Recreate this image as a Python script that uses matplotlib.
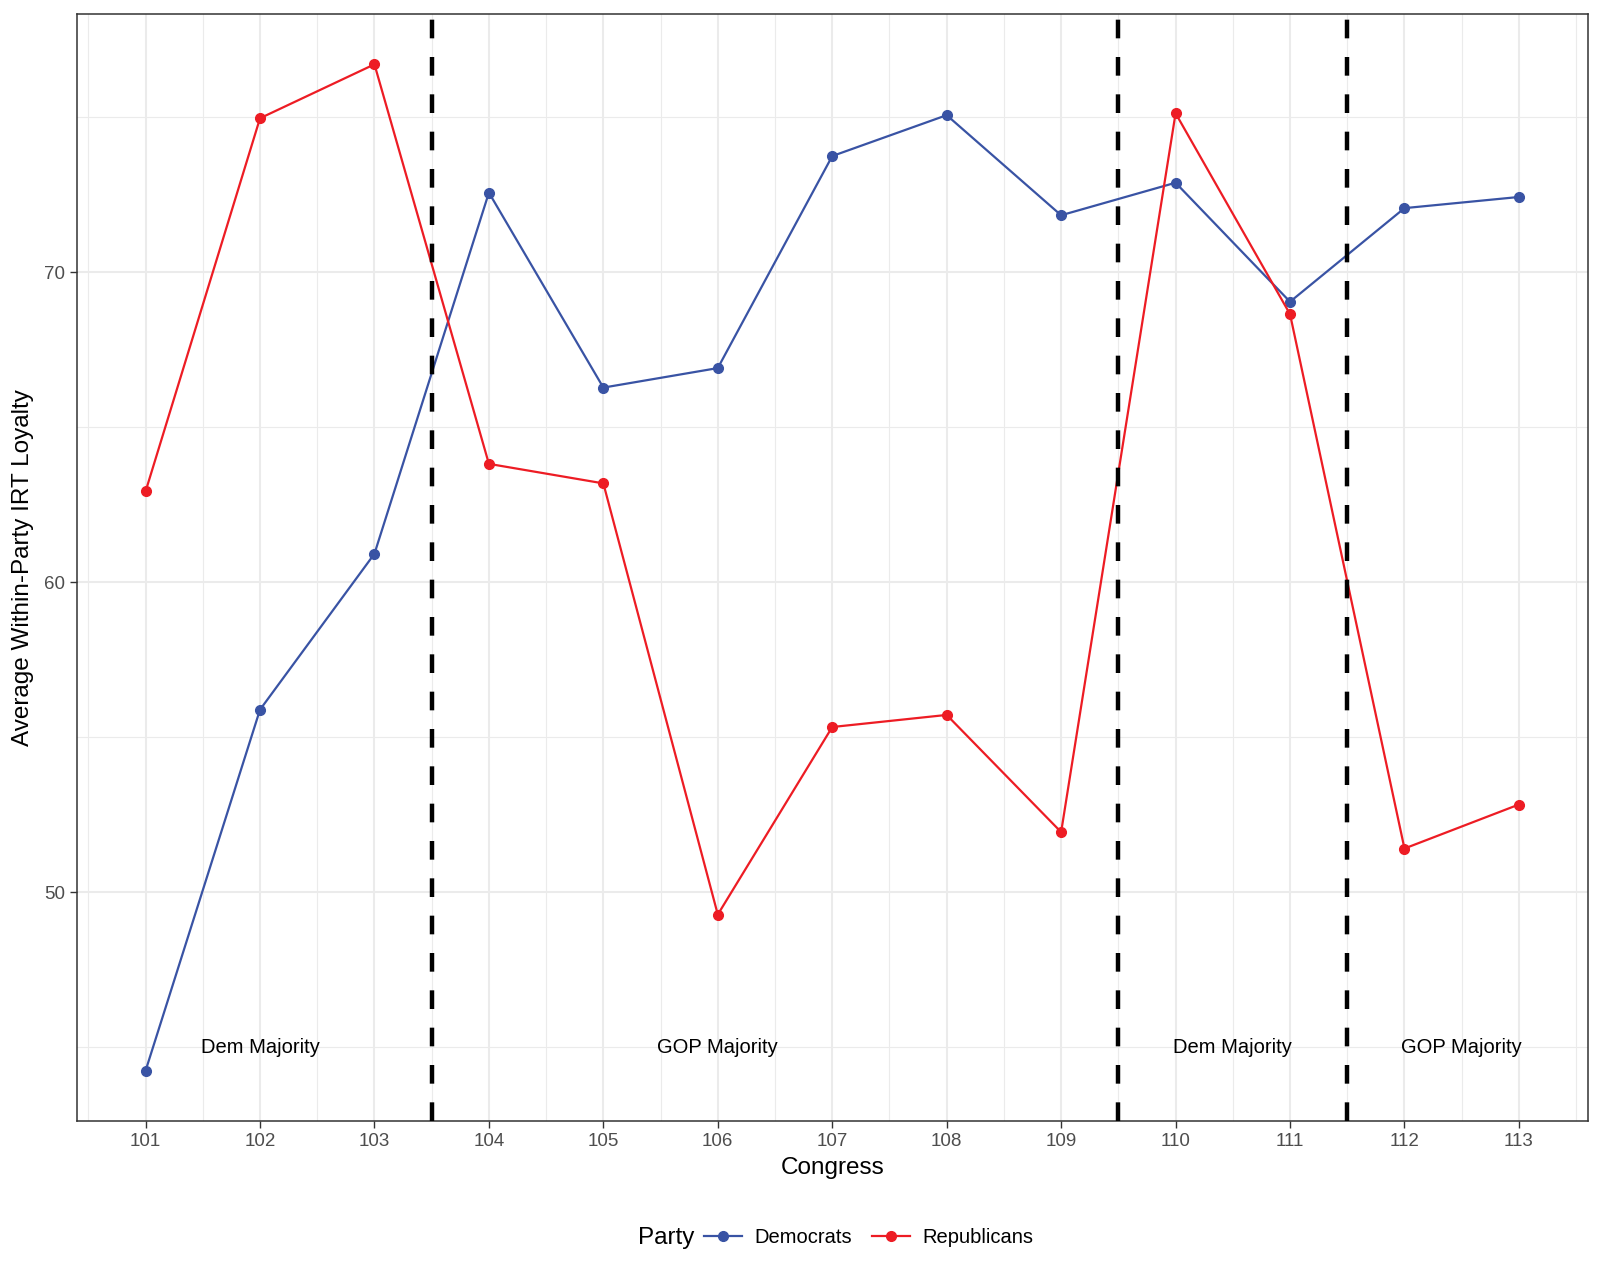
import matplotlib.pyplot as plt
from matplotlib.lines import Line2D

plt.rcParams['font.family'] = ['Liberation Sans', 'DejaVu Sans']

# Data
congress = [101, 102, 103, 104, 105, 106, 107, 108, 109, 110, 111, 112, 113]
democrats = [44.24, 55.89, 60.92, 72.57, 66.28, 66.91, 73.75, 75.07, 71.84, 72.89, 69.05, 72.07, 72.43]
republicans = [62.93, 74.97, 76.71, 63.82, 63.19, 49.28, 55.33, 55.72, 51.94, 75.13, 68.65, 51.41, 52.83]
breaks = [103.5, 109.5, 111.5]
label_x = [102, 106, 110.5, 112.5]
label_text = ['Dem Majority', 'GOP Majority', 'Dem Majority', 'GOP Majority']

blue = '#3953A4'
red = '#ED1C24'

fig = plt.figure(figsize=(16.02, 12.82), dpi=100)
ax = fig.add_axes([0.048, 0.1256, 0.943, 0.8634])

# theme_bw style grid
for y in [45, 55, 65, 75]:
    ax.axhline(y, color='#EBEBEB', lw=0.8, zorder=0)
for y in [50, 60, 70]:
    ax.axhline(y, color='#EBEBEB', lw=1.5, zorder=0)
for x in [100.5 + i for i in range(14)]:
    ax.axvline(x, color='#EBEBEB', lw=0.8, zorder=0)
for x in congress:
    ax.axvline(x, color='#EBEBEB', lw=1.5, zorder=0)

ax.plot(congress, democrats, color=blue, lw=1.6, marker='o', ms=7, zorder=3)
ax.plot(congress, republicans, color=red, lw=1.6, marker='o', ms=7, zorder=3)

for b in breaks:
    ax.axvline(b, color='black', lw=3.2, ls=(0, (4.2, 4.2)), zorder=4)

for x, t in zip(label_x, label_text):
    ax.text(x, 45, t, ha='center', va='center', fontsize=14.5, color='black')

ax.set_xlim(100.4, 113.6)
ax.set_ylim(42.62, 78.33)
ax.set_xticks(congress)
ax.set_yticks([50, 60, 70])
ax.tick_params(labelsize=13.5, labelcolor='#4D4D4D', color='#333333', length=5, width=1)
for s in ax.spines.values():
    s.set_color('#333333')
    s.set_linewidth(1.1)

ax.set_xlabel('Congress', fontsize=17.5, labelpad=5)
ax.set_ylabel('Average Within-Party IRT Loyalty', fontsize=17.5, labelpad=7)

# legend at bottom: title beside entries
fig.text(0.398, 0.0345, 'Party', fontsize=17.5, ha='left', va='center')
handles = [Line2D([], [], color=blue, lw=1.6, marker='o', ms=7),
           Line2D([], [], color=red, lw=1.6, marker='o', ms=7)]
fig.legend(handles, ['Democrats', 'Republicans'], loc='center left',
           bbox_to_anchor=(0.433, 0.0345), ncol=2, frameon=False, fontsize=14.5,
           handlelength=1.9, columnspacing=1.0, handletextpad=0.6, borderpad=0)

fig.savefig('out.png', dpi=100)
